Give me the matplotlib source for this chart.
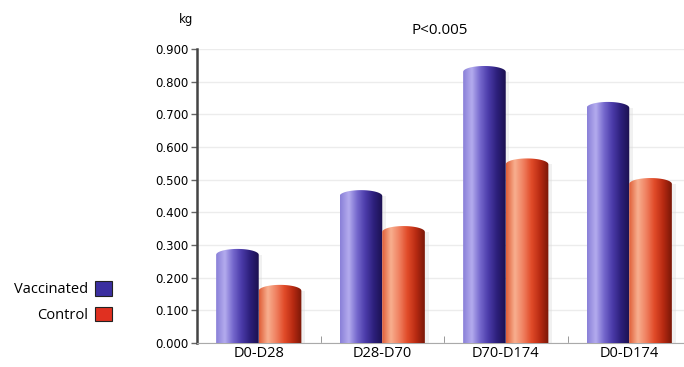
import numpy as np
import matplotlib.pyplot as plt
from matplotlib.path import Path
from matplotlib.patches import PathPatch, Patch
from matplotlib.colors import LinearSegmentedColormap

plt.rcParams['font.family'] = ['Open Sans', 'DejaVu Sans']

# weight gain per period (kg)
periods = ['D0-D28', 'D28-D70', 'D70-D174', 'D0-D174']
vaccinated = [0.288, 0.468, 0.848, 0.738]
control = [0.178, 0.358, 0.565, 0.505]
yticks = [0.0, 0.1, 0.2, 0.3, 0.4, 0.5, 0.6, 0.7, 0.8, 0.9]

blue_cmap = LinearSegmentedColormap.from_list(
    'cyl_blue', ['#8a80d8', '#b4acee', '#7467cc', '#4a3aa8', '#2c1f7a', '#1c1150'])
red_cmap = LinearSegmentedColormap.from_list(
    'cyl_red', ['#e0603a', '#f8b090', '#f08060', '#e04a28', '#b82a12', '#7a1808'])

fig = plt.figure(figsize=(6.84, 3.67), dpi=100)
ax = fig.add_axes([197 / 684, 24 / 367, 494 / 684, 294 / 367])

w = 0.345
cap = 0.018


def cylinder(ax, xc, h, cmap):
    x0, x1 = xc - w / 2, xc + w / 2
    # body with a rounded top edge
    t = np.linspace(0, np.pi, 30)
    top = np.column_stack([xc + (w / 2) * np.cos(t), h - cap + cap * np.sin(t)])
    verts = np.vstack([[x0, 0], [x1, 0], [x1, h - cap], top, [x0, 0]])
    codes = [Path.MOVETO] + [Path.LINETO] * (len(verts) - 2) + [Path.CLOSEPOLY]
    clip = PathPatch(Path(verts, codes), facecolor='none', edgecolor='none')
    ax.add_patch(clip)
    grad = np.linspace(0, 1, 64).reshape(1, -1)
    im = ax.imshow(grad, cmap=cmap, extent=(x0, x1, 0, h), aspect='auto',
                   interpolation='bicubic', zorder=3)
    im.set_clip_path(clip)
    # soft shadow on the right side
    ax.fill_between([x1, x1 + 0.03], 0, h - cap, color='#d8d8d8', alpha=0.35,
                    lw=0, zorder=2)


x = np.arange(len(periods))
for i in x:
    cylinder(ax, i - w / 2, vaccinated[i], blue_cmap)
    cylinder(ax, i + w / 2, control[i], red_cmap)

ax.set_xlim(-0.5, 3.5)
ax.set_ylim(0, 0.9)
ax.set_yticks(yticks)
ax.set_yticklabels([f'{v:.3f}' for v in yticks], fontsize=8.5, family='DejaVu Sans')
ax.set_xticks(x)
ax.set_xticklabels(periods, fontsize=10.5)
ax.set_xticks(x[:-1] + 0.5, minor=True)
ax.tick_params(axis='x', which='major', length=0, pad=2)
ax.tick_params(axis='x', which='minor', direction='in', length=5, color='#888888')
ax.tick_params(axis='y', length=4, color='#666666', width=1, pad=2)

ax.grid(axis='y', color='#ececec', lw=1, zorder=0)
ax.set_axisbelow(True)
for s in ['top', 'right']:
    ax.spines[s].set_visible(False)
ax.spines['left'].set_color('#444444')
ax.spines['left'].set_linewidth(1.8)
ax.spines['bottom'].set_color('#aaaaaa')

fig.text(186 / 684, 1 - 20 / 367, 'kg', fontsize=8.5, family='DejaVu Sans',
         ha='center', va='center')
fig.text(440 / 684, 1 - 30 / 367, 'P<0.005', fontsize=11, ha='center', va='center')

handles = [Patch(facecolor='#3b2fa0', edgecolor='#222222', lw=0.8),
           Patch(facecolor='#e03020', edgecolor='#222222', lw=0.8)]
fig.legend(handles, ['Vaccinated', 'Control'], markerfirst=False, frameon=False,
           loc='center right', bbox_to_anchor=(125 / 684, 1 - 302 / 367),
           fontsize=10.5, handlelength=1.15, handleheight=1.15, handletextpad=0.45,
           labelspacing=0.65)

fig.savefig('out.png', dpi=100)
